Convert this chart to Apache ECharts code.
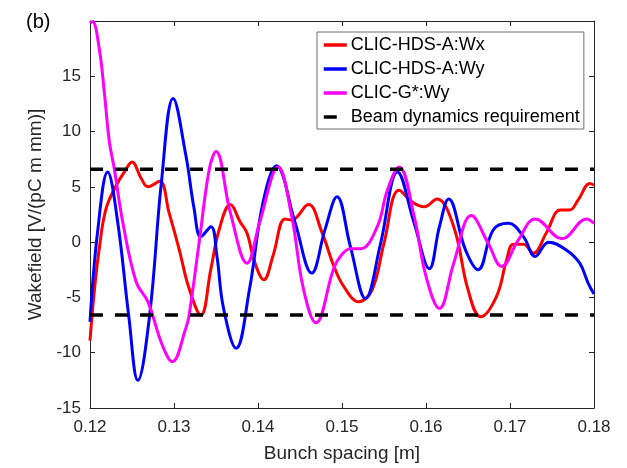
<!DOCTYPE html>
<html>
<head>
<meta charset="utf-8">
<script src="https://cdn.jsdelivr.net/npm/echarts@6/dist/echarts.min.js"></script>
<style>
html,body{margin:0;padding:0;background:#fff;}
#chart{width:627px;height:468px;}
</style>
</head>
<body>
<div id="chart"></div>
<script>
// ---- Data ----
const xTicks = [0.12, 0.13, 0.14, 0.15, 0.16, 0.17, 0.18];
const yTicks = [-15, -10, -5, 0, 5, 10, 15];
const requirement = 6.6;

const wxX = [0.1200,0.1205,0.1211,0.1219,0.1231,0.1241,0.1250,0.1261,0.1269,0.1283,0.1294,0.1306,0.1318,0.1332,0.1344,0.1354,0.1367,0.1379,0.1387,0.1396,0.1407,0.1418,0.1432,0.1440,0.1460,0.1476,0.1490,0.1502,0.1520,0.1536,0.1550,0.1568,0.1584,0.1598,0.1613,0.1633,0.1650,0.1665,0.1684,0.1696,0.1704,0.1716,0.1728,0.1743,0.1760,0.1771,0.1781,0.1795,0.1800];
const wxY = [-8.9,-4.5,-0.6,3.0,5.1,6.35,7.25,5.75,5.0,5.5,2.7,-0.6,-4.2,-6.6,-2.4,1.2,3.4,1.8,0.8,-1.8,-3.4,-1.2,2.1,2.0,3.4,0.9,-2.1,-4.0,-5.4,-4.3,-0.1,4.7,3.6,3.2,3.9,1.4,-4.3,-6.75,-4.9,-1.6,-0.2,-0.2,-1.0,0.8,2.9,2.9,3.8,5.3,5.15];

const wyX = [0.1200,0.1209,0.1221,0.1233,0.1246,0.1257,0.1271,0.1285,0.1299,0.1314,0.1324,0.1332,0.1344,0.1351,0.1359,0.1374,0.1390,0.1406,0.1422,0.1444,0.1464,0.1480,0.1494,0.1510,0.1528,0.1546,0.1566,0.1586,0.1604,0.1616,0.1627,0.1647,0.1662,0.1680,0.1698,0.1716,0.1730,0.1746,0.1767,0.1783,0.1793,0.1800];
const wyY = [-7.2,0.9,6.35,1.8,-6.6,-12.5,-6.6,5.4,13.0,7.9,3.0,0.5,1.4,-1.2,-6.0,-9.6,-4.2,3.6,6.9,1.8,-2.8,1.2,4.1,-0.4,-5.1,-0.1,6.35,1.7,-2.4,1.4,3.9,-0.7,-2.5,1.1,1.7,0.5,-1.3,0.0,-0.7,-1.9,-3.7,-4.7];

const gX = [0.1200,0.1203,0.1211,0.1217,0.1223,0.1229,0.1239,0.1255,0.1269,0.1286,0.1298,0.1314,0.1318,0.1330,0.1342,0.1350,0.1367,0.1387,0.1402,0.1424,0.1440,0.1454,0.1469,0.1490,0.1498,0.1510,0.1522,0.1542,0.1554,0.1568,0.1586,0.1600,0.1616,0.1633,0.1654,0.1674,0.1690,0.1710,0.1730,0.1762,0.1791,0.1800];
const gY = [19.8,19.95,17.5,13.6,9.1,6.6,1.8,-3.6,-5.4,-9.3,-10.8,-7.8,-6.6,0.0,6.6,8.2,2.7,-1.9,1.8,6.8,2.4,-4.2,-7.3,-2.4,-1.3,-0.6,-0.6,1.4,4.7,6.8,2.3,-3.1,-6.0,-1.9,2.4,-0.1,-2.2,0.2,2.1,0.3,2.1,1.7];

const names = ['CLIC-HDS-A:Wx','CLIC-HDS-A:Wy','CLIC-G*:Wy','Beam dynamics requirement'];
const colors = ['#ff0000','#0000ff','#ff00ff','#000000'];

function pairs(xs, ys){ return xs.map((x,i)=>[x, ys[i]]); }

const FONT = "'Liberation Sans', Arial, sans-serif";
const AX = '#262626';
const xMin = xTicks[0], xMax = xTicks[xTicks.length-1];

const chart = echarts.init(document.getElementById('chart'), null, {renderer:'canvas'});

const baseX = {
  type:'value', min:xMin, max:xMax, interval:0.01,
  axisLine:{show:true, onZero:false, lineStyle:{color:AX, width:1}},
  axisTick:{show:true, inside:true, length:5, lineStyle:{color:AX}},
  splitLine:{show:false}
};
const baseY = {
  type:'value', min:-15, max:20, interval:5,
  axisLine:{show:true, onZero:false, lineStyle:{color:AX, width:1}},
  axisTick:{show:true, inside:true, length:5, lineStyle:{color:AX}},
  splitLine:{show:false}
};

function curve(i, data){
  return {
    name:names[i], type:'line', data:data, xAxisIndex:0, yAxisIndex:0,
    symbol:'none', smooth:0.4,
    lineStyle:{color:colors[i], width:3}, itemStyle:{color:colors[i], opacity:0},
    animation:false, z:3
  };
}
function reqLine(v){
  return {
    name:names[3], type:'line', data:[[xMin, v],[xMax, v]], xAxisIndex:0, yAxisIndex:0,
    symbol:'none',
    lineStyle:{color:'#000', width:3.5, type:[13,12]}, itemStyle:{color:'#000', opacity:0},
    animation:false, z:4
  };
}

chart.setOption({
  animation:false,
  backgroundColor:'#fff',
  textStyle:{fontFamily:FONT},
  title:{text:'(b)', left:21, top:7, textStyle:{fontFamily:FONT, fontSize:20, fontWeight:'normal', color:'#000'}},
  grid:{left:90, right:33, top:21, bottom:60, containLabel:false},
  legend:{
    orient:'vertical', left:317, top:32,
    data:names,
    backgroundColor:'#fff', borderColor:'#6e6e6e', borderWidth:1,
    padding:[4,4,3,5], itemGap:6, itemWidth:23, itemHeight:14,
    itemStyle:{opacity:0},
    lineStyle:{width:3.5},
    textStyle:{fontFamily:FONT, fontSize:18, color:'#000', padding:[0,0,0,-1]}
  },
  xAxis:[
    Object.assign({}, baseX, {
      position:'bottom',
      name:'Bunch spacing [m]', nameLocation:'middle', nameGap:36,
      nameTextStyle:{fontFamily:FONT, fontSize:19, color:AX},
      axisLabel:{show:true, margin:11, fontFamily:FONT, fontSize:17, color:AX, formatter:v=>v.toFixed(2)}
    }),
    Object.assign({}, baseX, {position:'top', axisLabel:{show:false}})
  ],
  yAxis:[
    Object.assign({}, baseY, {
      position:'left',
      name:'Wakefield [V/(pC m mm)]', nameLocation:'middle', nameGap:40,
      nameTextStyle:{fontFamily:FONT, fontSize:19, color:AX},
      axisLabel:{show:true, margin:9, fontFamily:FONT, fontSize:17, color:AX,
        formatter:v=> yTicks.indexOf(v) >= 0 ? String(v) : ''}
    }),
    Object.assign({}, baseY, {position:'right', axisLabel:{show:false}})
  ],
  series:[
    curve(0, pairs(wxX, wxY)),
    curve(1, pairs(wyX, wyY)),
    curve(2, pairs(gX, gY)),
    reqLine(requirement),
    reqLine(-requirement)
  ]
});
</script>
</body>
</html>
